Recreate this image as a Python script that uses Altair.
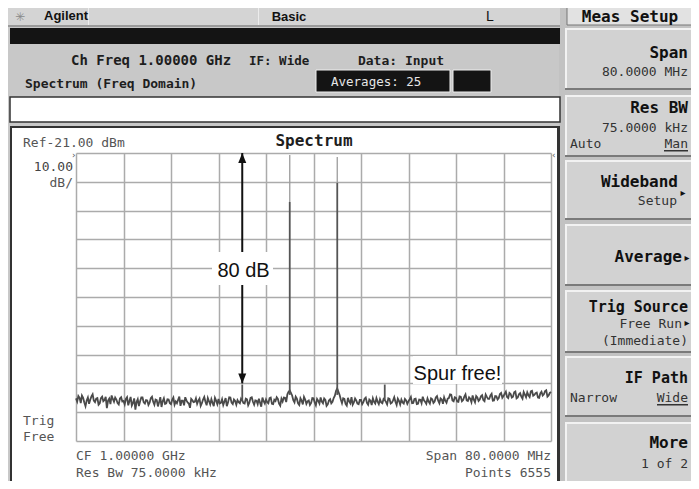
import altair as alt
import numpy as np
import pandas as pd

# ---------------- data ----------------
freq_grid_mhz = [960, 968, 976, 984, 992, 1000, 1008, 1016, 1024, 1032, 1040]
level_grid_dbm = [-121, -111, -101, -91, -81, -71, -61, -51, -41, -31, -21]

# averaged noise floor trace, sweep points at 960.0, 960.4, ... 1040.0 MHz
noise_dbm = [
    -106.2, -105.4, -107.8, -106.0, -108.9, -105.9, -106.7, -104.8, -107.5, -106.1,
    -107.9, -105.6, -106.8, -109.6, -106.3, -105.2, -107.4, -106.6, -108.3, -105.8,
    -107.1, -106.4, -108.6, -105.7, -107.8, -110.1, -106.5, -107.2, -105.9, -108.0,
    -106.9, -107.7, -105.6, -108.4, -106.8, -107.5, -109.2, -106.2, -107.9, -106.6,
    -108.2, -105.9, -107.3, -106.7, -108.8, -107.0, -105.8, -107.6, -109.5, -106.9,
    -107.4, -108.1, -106.3, -107.9, -105.7, -108.6, -107.2, -106.5, -108.9, -107.0,
    -106.4, -107.8, -108.5, -106.1, -107.6, -105.9, -108.2, -107.1, -106.8, -107.9,
    -106.9, -108.0, -106.5, -107.7, -105.8, -108.4, -107.0, -106.3, -109.1, -107.2,
    -106.6, -107.9, -105.9, -108.2, -107.1, -106.4, -108.7, -107.3, -106.0, -104.8,
    -103.5, -105.2, -107.6, -106.3, -108.5, -107.0, -105.7, -108.1, -106.9, -107.8,
    -106.2, -108.6, -107.1, -105.9, -107.9, -106.7, -108.3, -106.5, -107.4, -105.3,
    -102.8, -105.0, -107.9, -106.4, -108.7, -107.2, -105.8, -107.6, -106.9, -108.2,
    -106.7, -107.5, -105.9, -108.4, -107.0, -106.2, -108.0, -107.3, -106.5, -107.9,
    -106.8, -108.3, -106.4, -107.7, -105.8, -108.5, -107.1, -106.6, -108.0, -106.9,
    -107.2, -105.7, -107.8, -106.3, -108.1, -106.7, -105.6, -107.4, -106.2, -108.0,
    -106.5, -107.3, -105.4, -107.9, -106.6, -105.8, -107.7, -106.1, -104.9, -107.2,
    -106.0, -107.4, -105.6, -106.8, -104.8, -107.1, -106.3, -105.2, -107.6, -105.9,
    -106.6, -105.1, -107.2, -105.7, -106.4, -104.6, -106.9, -105.5, -106.1, -104.3,
    -105.4, -103.9, -106.1, -104.7, -105.6, -103.8, -105.9, -104.4, -106.3, -104.9,
    -104.1, -105.7, -103.6, -105.0, -104.2, -106.0, -103.9, -104.8, -103.4, -105.2,
    -104.0,
]
# the sweep points in between (960.2, 960.6, ... 1039.8 MHz)
noise_mid_dbm = [
    -107.3, -106.0, -105.2, -107.6, -106.9, -108.1, -105.5, -107.0, -106.3, -108.4,
    -106.1, -107.2, -105.7, -107.0, -108.2, -106.4, -105.9, -107.8, -106.2, -107.3,
    -108.3, -105.8, -107.1, -108.7, -106.2, -107.5, -108.9, -105.9, -107.6, -106.8,
    -108.5, -106.1, -107.4, -106.6, -109.0, -105.8, -107.2, -108.1, -106.5, -107.9,
    -106.7, -108.4, -107.9, -105.6, -107.0, -108.6, -106.9, -108.0, -106.4, -107.5,
    -106.2, -107.0, -108.8, -106.6, -107.4, -106.1, -108.3, -107.8, -106.0, -108.2,
    -108.0, -106.5, -107.3, -108.9, -105.8, -107.7, -106.6, -108.4, -107.5, -106.3,
    -107.8, -106.3, -108.6, -106.0, -107.4, -106.9, -108.2, -107.7, -105.9, -108.0,
    -107.5, -106.1, -108.1, -106.7, -105.8, -108.0, -106.3, -105.9, -107.5, -103.9,
    -104.3, -106.8, -105.6, -107.9, -106.2, -108.3, -106.6, -107.2, -108.5, -106.1,
    -107.6, -106.4, -108.0, -107.3, -106.2, -108.8, -106.9, -107.9, -106.1, -103.6,
    -103.9, -106.6, -106.2, -108.1, -106.0, -107.9, -108.4, -106.2, -108.0, -106.7,
    -108.2, -106.3, -107.8, -106.6, -108.5, -107.4, -106.1, -108.2, -107.6, -106.4,
    -107.4, -106.2, -108.0, -106.9, -107.4, -106.3, -108.3, -107.6, -106.4, -108.1,
    -106.5, -107.9, -106.4, -108.2, -106.6, -107.9, -106.9, -108.1, -107.3, -106.2,
    -107.8, -105.9, -107.0, -106.2, -108.1, -107.0, -106.3, -104.8, -106.9, -105.8,
    -107.3, -105.5, -107.2, -105.6, -106.9, -105.8, -107.5, -106.7, -105.4, -107.1,
    -105.5, -106.8, -104.9, -106.4, -105.2, -107.0, -105.4, -106.6, -104.7, -106.0,
    -104.6, -105.7, -104.3, -105.9, -104.1, -106.2, -104.8, -105.6, -104.0, -105.8,
    -105.1, -103.8, -105.3, -104.4, -105.9, -104.5, -105.2, -103.7, -105.6, -104.3,
]
spur_freq_mhz = [988, 996, 1004, 1012]
spur_peak_dbm = [-101.4, -38.0, -31.4, -101.4]
spur_base_dbm = [-107.0, -105.0, -105.0, -107.0]
hold_freq_mhz = [996, 1004]
hold_top_dbm = [-21.7, -22.4]
arrow_freq_mhz = [988]
arrow_top_dbm = [-21.0]
arrow_bottom_dbm = [-101.0]

# ---------------- tables ----------------
trace_levels = []
for a, b in zip(noise_dbm[:-1], noise_mid_dbm):
    trace_levels += [a, b]
trace_levels.append(noise_dbm[-1])
sweep = pd.DataFrame({
    "freq": np.linspace(960, 1040, len(trace_levels)),
    "level": trace_levels,
})
spurs = pd.DataFrame({"freq": spur_freq_mhz, "peak": spur_peak_dbm, "base": spur_base_dbm})
holds = pd.DataFrame({"freq": hold_freq_mhz, "peak": [spur_peak_dbm[1], spur_peak_dbm[2]], "top": hold_top_dbm})
arrow = pd.DataFrame({"freq": arrow_freq_mhz, "top": arrow_top_dbm, "bottom": arrow_bottom_dbm})
one = pd.DataFrame({"k": [0]})

# ---------------- geometry / style ----------------
X0, Y0 = 76, 153          # page position of the plot area
PW, PH = 475, 288
MONO = "DejaVu Sans Mono"
SANS = "Liberation Sans"
GRAY = "#c8c8c8"
DARK = "#141414"

x_scale = alt.Scale(domain=[960, 1040], nice=False, zero=False)
y_scale = alt.Scale(domain=[-121, -21], nice=False, zero=False)
x_axis = alt.Axis(values=freq_grid_mhz, grid=True, gridColor="#ababab", gridWidth=1.5,
                  labels=False, ticks=False, domain=False)
y_axis = alt.Axis(values=level_grid_dbm, grid=True, gridColor="#ababab", gridWidth=1.5,
                  labels=False, ticks=False, domain=False)


def X(field):
    return alt.X(field, type="quantitative", scale=x_scale, axis=x_axis, title=None)


def Y(field):
    return alt.Y(field, type="quantitative", scale=y_scale, axis=y_axis, title=None)


layers = []


def box(x1, y1, x2, y2, fill, stroke=None, sw=1):
    kw = {"fill": fill}
    if stroke:
        kw["stroke"] = stroke
        kw["strokeWidth"] = sw
    layers.append(
        alt.Chart(one).mark_rect(**kw).encode(
            x=alt.value(x1 - X0), x2=alt.value(x2 - X0),
            y=alt.value(y1 - Y0), y2=alt.value(y2 - Y0))
    )


def label(text, x, y, size, weight="normal", color="#333333", align="left", font=MONO):
    layers.append(
        alt.Chart(one).mark_text(text=text, font=font, fontSize=size, fontWeight=weight,
                                 color=color, align=align, baseline="alphabetic").encode(
            x=alt.value(x - X0), y=alt.value(y - Y0))
    )


def button(x1, y1, x2, y2):
    box(x1, y1, x2, y2, "#7a7a7a")
    box(x1, y1, x2 - 2, y2 - 2, "#f2f2f2")
    box(x1 + 2, y1 + 2, x2 - 2, y2 - 2, "#d2d2d2")


# ---------------- instrument chrome ----------------
box(0, 0, 700, 127, GRAY)                 # top area
box(0, 0, 11, 490, GRAY)                  # left strip
box(559, 0, 700, 490, "#c2c2c2")          # softkey column
box(0, 0, 560, 26, "#d4d4d4")             # title bar
box(88, 8, 89, 26, "#ececec")
box(258, 8, 259, 26, "#ececec")
box(0, 25, 560, 27, "#9a9a9a")
box(10, 28, 560, 44, DARK)                # black status bar
box(10, 97, 560, 122, "#ffffff", "#333333", 1.5)
box(10, 126, 560, 128, "#333333")         # main panel border
box(10, 126, 12, 490, "#333333")
box(557, 126, 560, 490, "#333333")
box(10, 483, 560, 490, DARK)

label("\u2733", 20, 21, 12, color="#8a8a8a", align="center", font="DejaVu Sans")
label("Agilent", 44, 20, 13, "bold", "#111111", font=SANS)
label("Basic", 289, 21, 13, "bold", "#111111", "center", font=SANS)
label("L", 490, 21, 14, "normal", "#111111", "center", font=SANS)

label("Ch Freq 1.00000 GHz", 71, 65, 14, "bold", "#1e1e1e")
label("IF: Wide", 249, 65, 12.5, "bold", "#1e1e1e")
label("Data: Input", 401, 65, 13, "bold", "#1e1e1e", "center")
label("Spectrum (Freq Domain)", 25, 88, 13, "bold", "#1e1e1e")
box(316, 70, 450, 92, DARK, "#eeeeee", 1)
box(453, 70, 491, 92, DARK, "#eeeeee", 1)
label("Averages:  25", 331, 86, 12.5, "normal", "#e6e6e6")

# softkeys
box(567, 2, 693, 25, "#e2e2e2", "#777777", 1)
label("Meas Setup", 630, 22, 16, "bold", "#111111", "center")
for (a, b) in [(28, 90), (95, 157), (160, 220), (224, 286), (290, 353), (356, 417), (422, 483)]:
    button(565, a, 694, b)
R = 688
label("Span", R, 58, 16, "bold", "#111111", "right")
label("80.0000 MHz", R, 76, 13, color="#333333", align="right")
label("Res BW", R, 113, 16, "bold", "#111111", "right")
label("75.0000 kHz", R, 132, 13, color="#333333", align="right")
label("Auto", 570, 148, 13, color="#333333")
label("Man", R, 148, 13, color="#333333", align="right")
box(R - 24, 150, R, 151.5, "#333333")
label("Wideband", R - 10, 187, 16, "bold", "#111111", "right")
label("\u25b8", R - 5, 196, 10, color="#111111", align="center", font="DejaVu Sans")
label("Setup", R - 11, 205, 13, color="#333333", align="right")
label("Average", R - 6, 262, 16, "bold", "#111111", "right")
label("\u25b8", R - 1, 261, 10, color="#111111", align="center", font="DejaVu Sans")
label("Trig Source", R, 312, 15, "bold", "#111111", "right")
label("Free Run", R - 6, 328, 13, color="#333333", align="right")
label("\u25b8", R - 1, 326, 10, color="#111111", align="center", font="DejaVu Sans")
label("(Immediate)", R, 345, 13, color="#333333", align="right")
label("IF Path", R, 383, 15, "bold", "#111111", "right")
label("Narrow", 570, 402, 13, color="#333333")
label("Wide", R, 402, 13, color="#333333", align="right")
box(R - 31, 404, R, 405.5, "#333333")
label("More", R, 448, 16, "bold", "#111111", "right")
label("1 of 2", R, 468, 13, color="#333333", align="right")

# display panel texts
label("Ref-21.00 dBm", 23, 147, 13, color="#555555")
label("Spectrum", 314, 146, 16, "bold", "#1e1e1e", "center")
label("10.00", 73, 171, 13, color="#444444", align="right")
label("dB/", 73, 187, 13, color="#555555", align="right")
label("\u203a", 72, 158, 9, color="#555555", font="DejaVu Sans")
label("\u2039", 552, 158, 9, color="#555555", font="DejaVu Sans")
label("Trig", 23, 425, 13, color="#555555")
label("Free", 23, 441, 13, color="#555555")
label("CF 1.00000 GHz", 76, 460, 13, color="#555555")
label("Res Bw 75.0000 kHz", 76, 477, 13, color="#555555")
label("Span  80.0000 MHz", 551, 460, 13, color="#555555", align="right")
label("Points 6555", 551, 477, 13, color="#555555", align="right")

chrome = layers[:]
layers = []

# ---------------- measurement data ----------------
trace = alt.Chart(sweep).mark_line(color="#4a4a4a", strokeWidth=1.8).encode(
    x=X("freq"), y=Y("level"))
hold = alt.Chart(holds).mark_rule(color="#9c9c9c", strokeWidth=1.3).encode(
    x=X("freq"), y=Y("peak"), y2="top")
spur = alt.Chart(spurs).mark_rule(color="#555555", strokeWidth=1.8).encode(
    x=X("freq"), y=Y("base"), y2="peak")
shaft = alt.Chart(arrow).mark_rule(color="#111111", strokeWidth=2).encode(
    x=X("freq"), y=Y("top"), y2="bottom")
head_up = alt.Chart(arrow).mark_point(shape="M0,-1L-0.8,1L0.8,1Z", filled=True, opacity=1,
                                       color="#111111", size=100, yOffset=5).encode(
    x=X("freq"), y=Y("top"))
head_dn = alt.Chart(arrow).mark_point(shape="M0,1L-0.8,-1L0.8,-1Z", filled=True, opacity=1,
                                       color="#111111", size=100, yOffset=-5).encode(
    x=X("freq"), y=Y("bottom"))

# annotations
box(212, 252, 273, 285, "#ffffff")
label("80 dB", 243.5, 277, 20, color="#111111", align="center", font=SANS)
box(413, 356, 502, 384, "#ffffff")
label("Spur free!", 457.5, 380, 20, color="#111111", align="center", font=SANS)
notes = layers[:]

chart = alt.layer(
    *chrome, trace, hold, spur, shaft, head_up, head_dn, *notes
).properties(
    width=PW, height=PH,
    autosize=alt.AutoSizeParams(type="none"),
    padding={"left": X0 - 8, "top": Y0 - 8, "right": 683 - (X0 - 8) - PW, "bottom": 473 - (Y0 - 8) - PH},
    background="#ffffff",
).configure_view(strokeWidth=0)

chart.save("out.html", embed_options={"renderer": "svg", "actions": False})
